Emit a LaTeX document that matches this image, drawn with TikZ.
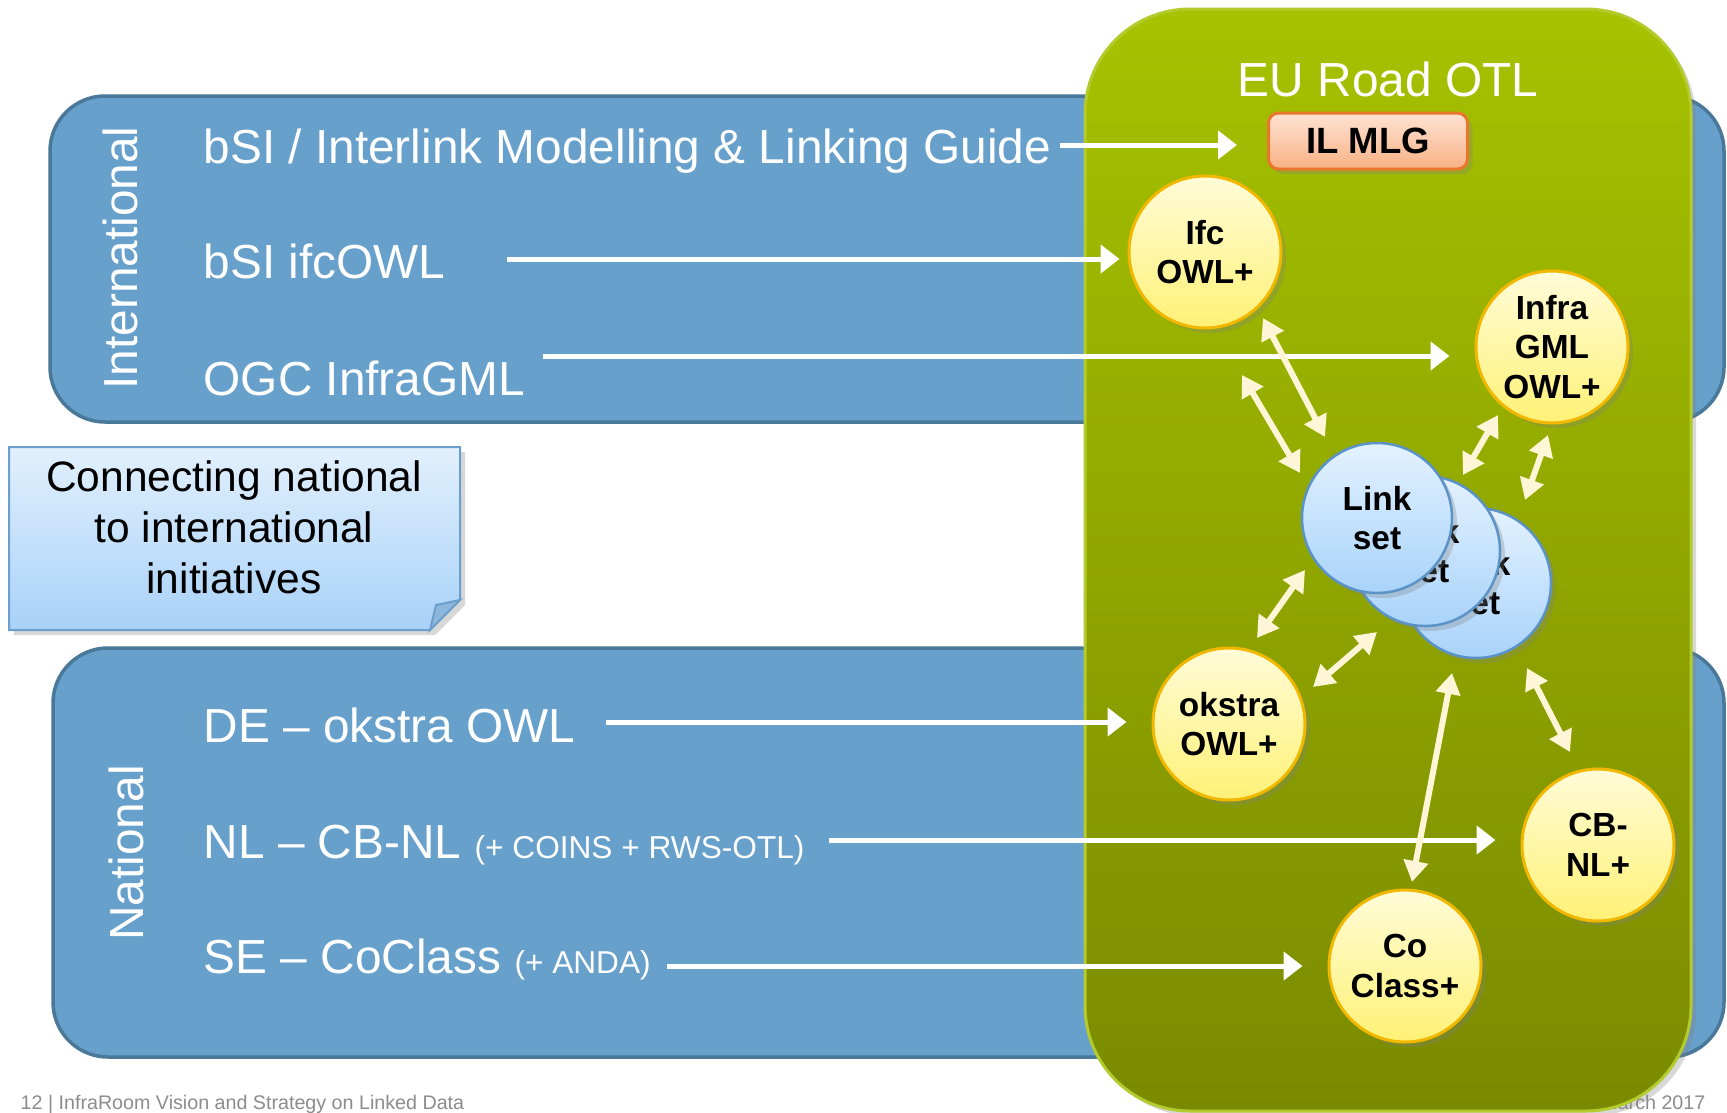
\documentclass[tikz,border=0pt]{standalone}
\usepackage{fontspec}
\setmainfont{Liberation Sans}
\usetikzlibrary{arrows.meta, shadows}

\definecolor{bandfill}{HTML}{67A0CB}
\definecolor{bandedge}{HTML}{4A7899}
\definecolor{greentop}{HTML}{A6C200}
\definecolor{greenbot}{HTML}{7A8A00}
\definecolor{greenedge}{HTML}{B4CB2E}
\definecolor{ovaltop}{HTML}{FFFCD8}
\definecolor{ovalbot}{HTML}{FFF176}
\definecolor{ovaledge}{HTML}{F2B800}
\definecolor{linktop}{HTML}{E3F2FF}
\definecolor{linkbot}{HTML}{A9D3FA}
\definecolor{linkedge}{HTML}{5B93C6}
\definecolor{mlgtop}{HTML}{FEE3D4}
\definecolor{mlgbot}{HTML}{F9B184}
\definecolor{mlgedge}{HTML}{E8762C}
\definecolor{cream}{HTML}{FFF5D7}
\definecolor{notetop}{HTML}{E2F0FD}
\definecolor{notebot}{HTML}{A8D2F8}
\definecolor{noteedge}{HTML}{6C9FCC}
\definecolor{notefold}{HTML}{8CB6DC}

\newcommand{\minorfont}{\fontsize{9}{11}\selectfont}

\tikzset{
  softshadow/.style={drop shadow={opacity=0.3, shadow xshift=0.5mm, shadow yshift=-0.5mm}},
  band/.style={draw=bandedge, line width=0.35mm, fill=bandfill, rounded corners=5.5mm},
  bandtitle/.style={text=white, rotate=90, anchor=base, inner sep=0pt, font=\fontsize{13.6}{16}\selectfont},
  itemtext/.style={text=white, inner sep=0pt, anchor=base west, font=\fontsize{13.6}{16}\selectfont},
  notebox/.style={draw=noteedge, line width=0.2mm, top color=notetop, bottom color=notebot, softshadow},
  notetext/.style={align=center, inner sep=0pt, font=\fontsize{12.1}{14.5}\selectfont},
  otl/.style={draw=greenedge, line width=0.3mm, top color=greentop, bottom color=greenbot, rounded corners=10.5mm, softshadow},
  otltitle/.style={text=white, anchor=base, inner sep=0pt, font=\fontsize{13.6}{16}\selectfont},
  mlgbox/.style={rectangle, rounded corners=1mm, minimum width=19.9mm, minimum height=5.6mm, draw=mlgedge, line width=0.3mm, top color=mlgtop, bottom color=mlgbot, font=\bfseries\fontsize{10.4}{12}\selectfont, softshadow},
  oval/.style={circle, minimum size=15.2mm, inner sep=0pt, draw=ovaledge, line width=0.3mm, top color=ovaltop, bottom color=ovalbot, align=center, font=\bfseries\fontsize{9.5}{11.3}\selectfont, softshadow},
  linkset/.style={circle, minimum size=15mm, inner sep=0pt, draw=linkedge, line width=0.25mm, top color=linktop, bottom color=linkbot, align=center, font=\bfseries\fontsize{9.5}{11.3}\selectfont, softshadow},
  whitearrow/.style={color=white, line width=0.5mm, -{Triangle[length=1.9mm,width=2.8mm]}, shorten >=2.5mm},
  linkarrow/.style={color=cream, line width=0.6mm, {Triangle[length=2.1mm,width=2.4mm]}-{Triangle[length=2.1mm,width=2.4mm]}},
  footer/.style={text=black!45, inner sep=0pt, font=\fontsize{5.6}{7}\selectfont}
}

\begin{document}
\begin{tikzpicture}[x=0.1mm, y=-0.1mm]
\useasboundingbox[fill=white] (0,0) rectangle (1727,1113);

% the two bands
\path[band] (50,96) rectangle (1724,422);
\path[band] (53,648) rectangle (1724,1057);
\node[bandtitle] (intl) at (137,258) {International};
\node[bandtitle] (natl) at (143,853) {National};

\node[itemtext] (tMLG) at (203,163) {bSI / Interlink Modelling \& Linking Guide};
\node[itemtext] (tIfc) at (203,278) {bSI ifcOWL};
\node[itemtext] (tGML) at (203,395) {OGC InfraGML};
\node[itemtext] (tOks) at (203,742) {DE – okstra OWL};
\node[itemtext] (tCB)  at (203,858) {NL – CB-NL {\minorfont (+ COINS + RWS-OTL)}};
\node[itemtext] (tCo)  at (203,973) {SE – CoClass {\minorfont (+ ANDA)}};

% note
\path[notebox] (9,447) -- (460,447) -- (460,600) -- (430,630) -- (9,630) -- cycle;
\path[fill=notefold, draw=noteedge, line width=0.2mm] (430,630) -- (436,605) -- (460,600) -- cycle;
\node[notetext] (note) at (234,527) {Connecting national\\to international\\initiatives};

% footer
\node[footer, anchor=base west] (foot) at (20,1109) {12 | InfraRoom Vision and Strategy on Linked Data};
\node[footer, anchor=base east] (date) at (1706,1109) {March 2017};

% EU Road OTL
\path[otl] (1085,9) rectangle (1691,1111);
\node[otltitle] (otl) at (1388,96) {EU Road OTL};
\node[mlgbox] (ilmlg) at (1368,141) {IL MLG};

\node[oval] (ifc)     at (1205,252) {Ifc\\OWL+};
\node[oval] (infra)   at (1552,347) {Infra\\GML\\OWL+};
\node[oval] (okstra)  at (1229,724) {okstra\\OWL+};
\node[oval] (cbnl)    at (1598,845) {CB-\\NL+};
\node[oval] (coclass) at (1405,966) {Co\\Class+};

\node[linkset] (ls3) at (1476,583) {Link\\set};
\node[linkset] (ls2) at (1425,551) {Link\\set};
\node[linkset] (ls1) at (1377,518) {Link\\set};

% inputs
\coordinate (sMLG) at (1060,145);
\coordinate (sIfc) at (507,259);
\coordinate (sGML) at (543,356);
\coordinate (sOks) at (606,722);
\coordinate (sCB)  at (829,840);
\coordinate (sCo)  at (667,966);
\path (sMLG) edge[whitearrow, shorten >=3mm] (sMLG -| ilmlg.west)
      (sIfc) edge[whitearrow, shorten >=0.8mm] (sIfc -| ifc.west)
      (sGML) edge[whitearrow] (sGML -| infra.west)
      (sOks) edge[whitearrow] (sOks -| okstra.west)
      (sCB)  edge[whitearrow] (sCB -| cbnl.west)
      (sCo)  edge[whitearrow] (sCo -| coclass.west);

% links
\coordinate (ifcA) at (1263,318);  \coordinate (lsA) at (1325,437);
\coordinate (ifcB) at (1242,375);  \coordinate (lsB) at (1300,473);
\coordinate (gmlA) at (1498,415);  \coordinate (lsC) at (1463,475);
\coordinate (gmlB) at (1548,435);  \coordinate (lsD) at (1525,500);
\coordinate (lsE)  at (1305,570);  \coordinate (oksA) at (1257,638);
\coordinate (lsF)  at (1377,632);  \coordinate (oksB) at (1313,687);
\coordinate (lsG)  at (1452,673);  \coordinate (coA) at (1412,882);
\coordinate (lsH)  at (1527,668);  \coordinate (cbA) at (1570,752);
\path (ifcA) edge[linkarrow] (lsA)
      (ifcB) edge[linkarrow] (lsB)
      (gmlA) edge[linkarrow] (lsC)
      (gmlB) edge[linkarrow] (lsD)
      (lsE)  edge[linkarrow] (oksA)
      (lsF)  edge[linkarrow] (oksB)
      (lsG)  edge[linkarrow] (coA)
      (lsH)  edge[linkarrow] (cbA);
\end{tikzpicture}
\end{document}
